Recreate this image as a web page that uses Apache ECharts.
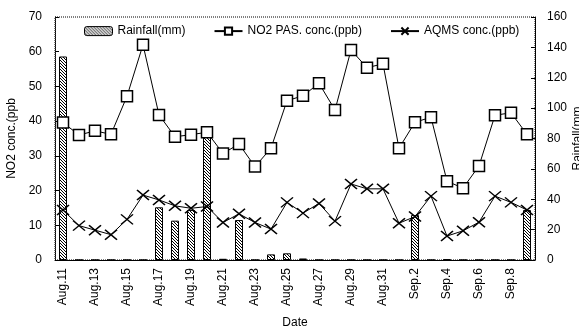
<!DOCTYPE html>
<html><head><meta charset="utf-8">
<script src="https://cdn.jsdelivr.net/npm/echarts@6/dist/echarts.min.js"></script>
<style>html,body{margin:0;padding:0;background:#fff}#c{width:579px;height:328px}</style>
</head><body><div id="c"></div>
<script>
var dates = ["Aug.11","Aug.12","Aug.13","Aug.14","Aug.15","Aug.16","Aug.17","Aug.18","Aug.19","Aug.20",
"Aug.21","Aug.22","Aug.23","Aug.24","Aug.25","Aug.26","Aug.27","Aug.28","Aug.29","Aug.30","Aug.31",
"Sep.1","Sep.2","Sep.3","Sep.4","Sep.5","Sep.6","Sep.7","Sep.8","Sep.9"];
var rainfall = [134,0,0,0,0,0,34.7,25.9,32.9,85.1,0.8,26.3,0,3.7,4.4,1,0,0,0,0,0,0,29.6,0,0.5,0,0,0,0,32.9];
var no2Pas = [39.6,36.0,37.2,36.2,47.2,62.0,41.8,35.5,36.1,36.8,30.7,33.4,26.9,32.2,45.9,47.3,50.9,43.2,60.5,55.4,56.5,32.2,39.7,41.1,22.7,20.7,27.1,41.7,42.4,36.2];
var aqms = [14.4,9.9,8.6,7.3,11.7,18.7,17.3,15.6,14.9,15.4,10.8,13.3,10.8,8.9,16.6,13.5,16.3,11.2,21.9,20.5,20.5,10.6,12.5,18.4,6.9,8.4,10.9,18.4,16.6,14.4];
var leftTicks = [0,10,20,30,40,50,60,70];
var rightTicks = [0,20,40,60,80,100,120,140,160];

var cv = document.createElement('canvas');
cv.width = 3; cv.height = 3;
var g = cv.getContext('2d');
g.fillStyle = '#fff'; g.fillRect(0,0,3,3);
g.strokeStyle = '#000'; g.lineWidth = 1;
g.beginPath(); g.moveTo(-1,-1); g.lineTo(4,4); g.moveTo(2,-1); g.lineTo(4,1); g.moveTo(-1,2); g.lineTo(1,4); g.stroke();
var hatch = {image: cv, repeat: 'repeat'};

var font = 'Liberation Sans';
var chart = echarts.init(document.getElementById('c'), null, {renderer: 'canvas'});
chart.setOption({
  animation: false,
  textStyle: {fontFamily: font, color: '#000'},
  grid: {left: 55, right: 44, top: 17, bottom: 68, show: true, borderColor: '#000', borderWidth: 1, borderType: 'dotted',
         containLabel: false, outerBoundsMode: 'none'},
  legend: {
    top: 20, left: 79, itemGap: 28, itemHeight: 9, itemWidth: 28,
    textStyle: {fontFamily: font, fontSize: 12, color: '#000'},
    data: [
      {name: 'Rainfall(mm)', itemStyle: {color: hatch, borderColor: '#000', borderWidth: 1}},
      {name: 'NO2 PAS. conc.(ppb)'},
      {name: 'AQMS conc.(ppb)'}
    ]
  },
  xAxis: {
    type: 'category', data: dates, boundaryGap: true,
    name: 'Date', nameLocation: 'middle', nameGap: 57,
    nameTextStyle: {fontSize: 12, color: '#000'},
    axisLine: {lineStyle: {color: '#000', width: 1}},
    axisTick: {inside: true, length: 3, interval: 0, lineStyle: {color: '#000'}},
    axisLabel: {rotate: 90, interval: 1, fontSize: 12, color: '#000', margin: 8},
    splitLine: {show: false}
  },
  yAxis: [
    {type: 'value', min: 0, max: 70, interval: 10, position: 'left',
     name: 'NO2 conc.(ppb', nameLocation: 'middle', nameGap: 32,
     nameTextStyle: {fontSize: 12, color: '#000'},
     axisLine: {show: true, lineStyle: {color: '#000', type: 'dotted'}},
     axisTick: {show: true, inside: true, length: 4, lineStyle: {color: '#000'}},
     axisLabel: {fontSize: 12, color: '#000', margin: 13},
     splitLine: {show: false}},
    {type: 'value', min: 0, max: 160, interval: 20, position: 'right',
     name: 'Rainfall(mm', nameLocation: 'middle', nameGap: 37, nameMoveOverlap: false,
     nameTextStyle: {fontSize: 12, color: '#000'},
     axisLine: {show: true, lineStyle: {color: '#000'}},
     axisTick: {show: true, inside: true, length: 4, lineStyle: {color: '#000'}},
     axisLabel: {fontSize: 12, color: '#000', margin: 12},
     splitLine: {show: false}}
  ],
  series: [
    {name: 'Rainfall(mm)', type: 'bar', yAxisIndex: 1, data: rainfall, barWidth: 8,
     itemStyle: {color: hatch, borderColor: '#000', borderWidth: 1}},
    {name: 'NO2 PAS. conc.(ppb)', type: 'line', yAxisIndex: 0, data: no2Pas,
     symbol: 'rect', symbolSize: 11, showAllSymbol: true,
     lineStyle: {color: '#000', width: 1},
     itemStyle: {color: '#fff', borderColor: '#000', borderWidth: 1.5}},
    {name: 'AQMS conc.(ppb)', type: 'line', yAxisIndex: 0, data: aqms,
     symbol: 'path://M0,0L10,8M10,0L0,8', symbolSize: [12, 10], showAllSymbol: true,
     lineStyle: {color: '#000', width: 1},
     itemStyle: {color: 'none', borderColor: '#000', borderWidth: 1.5}}
  ]
});
</script></body></html>
